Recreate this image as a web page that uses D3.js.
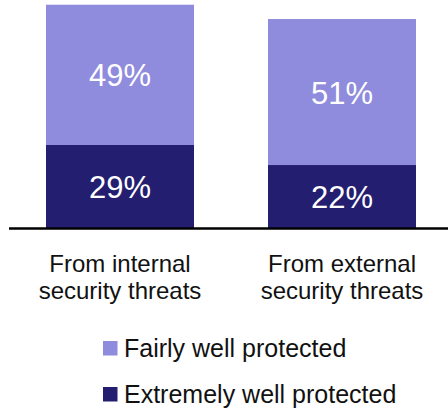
<!DOCTYPE html>
<html>
<head>
<meta charset="utf-8">
<script src="https://cdn.jsdelivr.net/npm/d3@7"></script>
<style>
  html, body { margin: 0; padding: 0; background: #fff; }
  svg { display: block; font-family: "Liberation Sans", Arial, sans-serif; }
</style>
</head>
<body>
<svg id="chart" width="448" height="408"></svg>
<script>
const categories = [["From internal", "security threats"], ["From external", "security threats"]];
const seriesNames = ["Extremely well protected", "Fairly well protected"];
const extremely = [29, 22];
const fairly = [49, 51];
const colors = ["#231e70", "#8f8bdd"];

const svg = d3.select("#chart");
const keys = categories.map(c => c.join(" "));
const data = keys.map((k, i) => ({ key: k, extremely: extremely[i], fairly: fairly[i] }));

const x = d3.scaleBand().domain(keys).range([9, 453]).paddingInner(1/3).paddingOuter(1/6);
const y = d3.scaleLinear().domain([0, 80]).range([228, -1]);

const stack = d3.stack().keys(["extremely", "fairly"]);
const layers = stack(data);

const g = svg.append("g");
layers.forEach((layer, li) => {
  g.selectAll(null).data(layer).enter().append("rect")
    .attr("x", d => x(d.data.key))
    .attr("width", x.bandwidth())
    .attr("y", d => y(d[1]))
    .attr("height", d => y(d[0]) - y(d[1]))
    .attr("fill", colors[li]);
  g.selectAll(null).data(layer).enter().append("text")
    .attr("x", d => x(d.data.key) + x.bandwidth() / 2)
    .attr("y", d => (y(d[0]) + y(d[1])) / 2)
    .attr("dy", "0.37em")
    .attr("text-anchor", "middle")
    .attr("fill", "#fff")
    .attr("font-size", 31)
    .text(d => (d[1] - d[0]) + "%");
});

// baseline
svg.append("line").attr("x1", 9).attr("x2", 448).attr("y1", y(0) + 0.5).attr("y2", y(0) + 0.5)
  .attr("stroke", "#000").attr("stroke-width", 2.5);

// category labels
const xAxis = d3.axisBottom(x).tickSize(0).tickFormat(() => "");
const ax = svg.append("g").attr("transform", `translate(0,${y(0)})`).call(xAxis);
ax.select(".domain").remove();
ax.selectAll(".tick").each(function(d, i) {
  const t = d3.select(this).append("text")
    .attr("text-anchor", "middle")
    .attr("fill", "#111")
    .attr("font-size", 24);
  categories[i].forEach((line, j) => {
    t.append("tspan").attr("x", 0).attr("y", 44 + j * 27).text(line);
  });
});

// legend
const legendItems = [
  { name: seriesNames[1], color: colors[1] },
  { name: seriesNames[0], color: colors[0] }
];
const lg = svg.append("g");
legendItems.forEach((it, i) => {
  const yy = 357 + i * 46;
  lg.append("rect").attr("x", 103).attr("y", yy - 16).attr("width", 14.5).attr("height", 14.5).attr("fill", it.color);
  lg.append("text").attr("x", 124).attr("y", yy).attr("font-size", 25).attr("fill", "#111").text(it.name);
});
</script>
</body>
</html>
